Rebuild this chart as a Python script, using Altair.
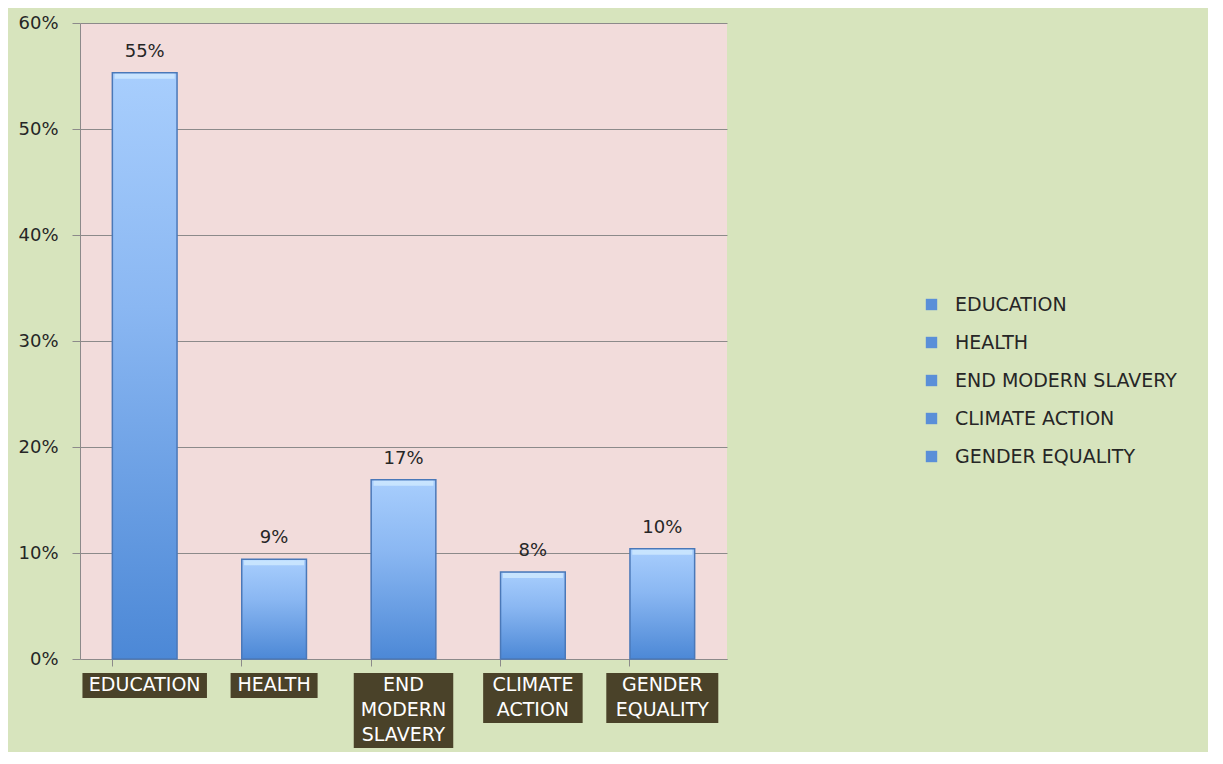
import altair as alt
import pandas as pd

# ---- data ----
categories = ["EDUCATION", "HEALTH", "END MODERN SLAVERY", "CLIMATE ACTION", "GENDER EQUALITY"]
axis_labels = ["EDUCATION", "HEALTH", "END\nMODERN\nSLAVERY", "CLIMATE\nACTION", "GENDER\nEQUALITY"]
shares = [0.553, 0.094, 0.169, 0.082, 0.104]
y_ticks = [0, 0.1, 0.2, 0.3, 0.4, 0.5, 0.6]

df = pd.DataFrame({"category": categories, "label": axis_labels, "share": shares})

FONT = "DejaVu Sans"
W, H = 647, 636
TEXT = "#262626"
GRID = "#8c8a8a"

x_enc = alt.X(
    "category:N",
    sort=categories,
    scale=alt.Scale(paddingInner=0.5, paddingOuter=0.25),
    axis=alt.Axis(title=None, labels=False, ticks=True, tickSize=7, bandPosition=0,
                  domainColor=GRID, tickColor=GRID, grid=False),
)
y_enc = alt.Y(
    "share:Q",
    scale=alt.Scale(domain=[0, 0.6]),
    axis=alt.Axis(title=None, values=y_ticks, format=".0%", labelFont=FONT, labelFontSize=18,
                  labelColor=TEXT, labelPadding=14, tickSize=8, tickColor=GRID,
                  domainColor=GRID, gridColor=GRID, gridWidth=1),
)

base = alt.Chart(df)

gradient = {
    "gradient": "linear",
    "x1": 0, "x2": 0, "y1": 0, "y2": 1,
    "stops": [
        {"offset": 0, "color": "#a8cefd"},
        {"offset": 0.4, "color": "#8ab7f2"},
        {"offset": 1, "color": "#4c88d6"},
    ],
}

bars = base.mark_bar(color=gradient, stroke="#4a78b8", strokeWidth=1.5).encode(x=x_enc, y=y_enc)

bevel = base.mark_tick(color="#d6eeff", size=60, thickness=5, yOffset=3.5).encode(
    x=alt.X("category:N", sort=categories),
    y="share:Q",
)

values = base.mark_text(baseline="bottom", dy=-12, font=FONT, fontSize=18, color=TEXT).encode(
    x=alt.X("category:N", sort=categories),
    y="share:Q",
    text=alt.Text("share:Q", format=".0%"),
)

legend_layer = base.transform_filter("false").mark_square().encode(
    color=alt.Color(
        "category:N",
        sort=categories,
        scale=alt.Scale(domain=categories, range=["#5a8fd8"] * len(categories)),
        legend=alt.Legend(
            title=None, orient="none", legendX=842, legendY=272,
            labelFont=FONT, labelFontSize=19, labelColor=TEXT, labelLimit=400,
            symbolType="square", symbolSize=130, symbolStrokeWidth=0, symbolOpacity=1,
            rowPadding=18, labelOffset=14, padding=0,
        ),
    ),
)

label_calc = base.transform_calculate(
    lines="split(datum.label, '\\n')",
).transform_calculate(
    nl="length(datum.lines)",
    maxlen="max(length(datum.lines[0]), length(datum.lines[1] || ''), length(datum.lines[2] || ''))",
)

label_boxes = label_calc.mark_rect(
    color="#4a4229", width=alt.expr("datum.maxlen * 12.5 + 12")
).encode(
    x=alt.X("category:N", sort=categories),
    y=alt.value(650),
    y2=alt.value({"expr": "650 + 25 * datum.nl"}),
)

label_text = label_calc.mark_text(
    lineBreak="\n", baseline="top", font=FONT, fontSize=19, lineHeight=25, color="white"
).encode(
    x=alt.X("category:N", sort=categories),
    y=alt.value(653),
    text="label:N",
)

chart = alt.layer(bars, bevel, values, label_boxes, label_text, legend_layer).properties(
    width=W, height=H,
    autosize="none",
    padding={"left": 72, "top": 15, "right": 481, "bottom": 93},
    background="#d7e4bd",
    view=alt.ViewBackground(fill="#f2dcdb", strokeWidth=0),
).configure_view(fill="#f2dcdb", strokeWidth=0)

chart.save("out.html", embed_options={"renderer": "svg", "actions": False})
